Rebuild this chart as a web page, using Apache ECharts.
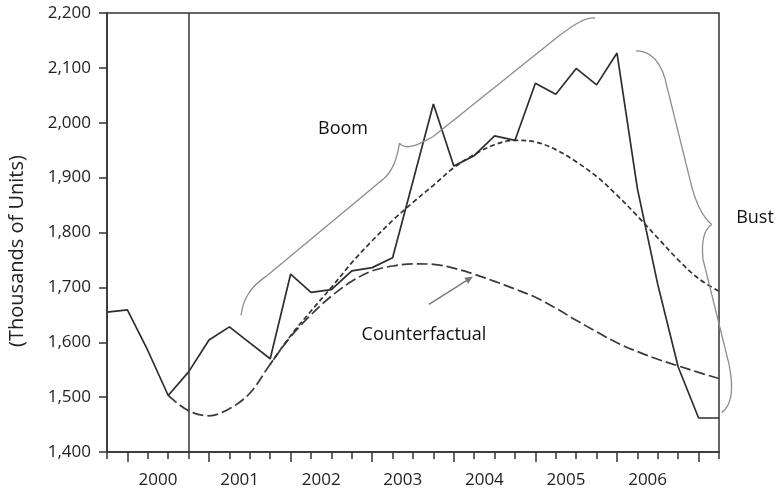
<!DOCTYPE html>
<html>
<head>
<meta charset="utf-8">
<script src="https://cdn.jsdelivr.net/npm/echarts@6/dist/echarts.min.js"></script>
<style>
html,body{margin:0;padding:0;background:#fff;}
#main{width:778px;height:489px;}
</style>
</head>
<body>
<div id="main"></div>
<script>
// ---- Data (quarter index 0..30, thousands of units) ----
const yearLabels = ['2000', '2001', '2002', '2003', '2004', '2005', '2006'];
const yearLabelPos = [2.5, 6.5, 10.5, 14.5, 18.5, 22.5, 26.5];
const yearTickPos = [1, 5, 9, 13, 17, 21, 25, 29];
const actual = [1655, 1659, 1585, 1503, 1546, 1604, 1628, 1599, 1570, 1724, 1691, 1696, 1730, 1736, 1754, 1894, 2034, 1921, 1940, 1976, 1968, 2072, 2052, 2099, 2069, 2127, 1880, 1705, 1555, 1462, 1462];
const counterfactualStart = 3;
const counterfactual = [1503, 1475, 1466, 1479, 1507, 1560, 1610, 1650, 1684, 1711, 1730, 1739, 1743, 1742, 1735, 1724, 1711, 1697, 1682, 1662, 1640, 1619, 1599, 1583, 1569, 1557, 1545, 1534];
const boomTrendStart = 8;
const boomTrend = [1560, 1612, 1657, 1700, 1745, 1785, 1822, 1855, 1886, 1918, 1942, 1960, 1968, 1965, 1951, 1929, 1902, 1868, 1830, 1790, 1750, 1716, 1693];
const markerQuarter = 4;

// annotation anchors in data units [quarter, value]
const boomBrace = [
  ['M', [6.569, 1649.1]],
  ['C', [6.667, 1678.2], [7.010, 1700.0], [7.794, 1720.0]],
  ['L', [13.578, 1898.2]],
  ['C', [13.971, 1910.9], [14.216, 1932.7], [14.338, 1962.7]],
  ['C', [14.461, 1956.4], [14.706, 1954.5], [15.049, 1958.2]],
  ['C', [15.343, 1961.8], [15.588, 1967.3], [15.980, 1974.5]],
  ['L', [22.206, 2160.0]],
  ['C', [22.941, 2180.0], [23.480, 2192.7], [23.922, 2190.9]]
];
const bustBrace = [
  ['M', [25.931, 2130.9]],
  ['C', [26.716, 2130.9], [27.206, 2110.9], [27.451, 2065.5]],
  ['L', [28.578, 1896.4]],
  ['C', [28.775, 1863.6], [29.069, 1832.7], [29.642, 1814.5]],
  ['C', [29.265, 1805.5], [29.118, 1787.3], [29.216, 1750.9]],
  ['L', [30.490, 1560.0]],
  ['C', [30.686, 1523.6], [30.735, 1487.3], [30.132, 1471.8]]
];
const arrowFrom = [15.784, 1669.1];
const arrowTo = [17.941, 1720.0];
const notes = [
  { text: 'Boom', at: [11.569, 1989.1] },
  { text: 'Bust', at: [31.765, 1827.3] },
  { text: 'Counterfactual', at: [15.539, 1612.7] }
];

const pairs = (arr, start) => arr.map((v, k) => [start + k, v]);

const axisColor = '#333';
const labelFont = 'Open Sans';

const option = {
  animation: false,
  backgroundColor: '#fff',
  grid: {
    left: 107, top: 13, width: 612, height: 440,
    show: true, borderColor: axisColor, borderWidth: 1.5, backgroundColor: 'transparent'
  },
  xAxis: [
    {
      type: 'value', min: 0, max: 30, interval: 1,
      axisLine: { show: true, lineStyle: { color: axisColor, width: 1.5 } },
      axisTick: { show: true, length: 7, lineStyle: { color: axisColor, width: 1.5 } },
      axisLabel: { show: false },
      splitLine: { show: false }
    },
    {
      type: 'value', min: 0, max: 30, position: 'bottom', offset: 0,
      axisLine: { show: false },
      axisTick: { show: true, length: 10, customValues: yearTickPos, lineStyle: { color: axisColor, width: 1.5 } },
      axisLabel: {
        show: true, customValues: yearLabelPos, margin: 20,
        fontFamily: labelFont, fontSize: 17, color: '#222',
        formatter: v => yearLabels[yearLabelPos.indexOf(v)] || ''
      },
      splitLine: { show: false }
    }
  ],
  yAxis: {
    type: 'value', min: 1400, max: 2200, interval: 100,
    axisLine: { show: true, lineStyle: { color: axisColor, width: 1.5 } },
    axisTick: { show: true, length: 8, lineStyle: { color: axisColor, width: 1.5 } },
    axisLabel: {
      margin: 16, fontFamily: labelFont, fontSize: 17, color: '#222',
      formatter: v => v.toLocaleString('en-US')
    },
    splitLine: { show: false }
  },
  series: [
    {
      name: 'Actual', type: 'line', xAxisIndex: 0, data: pairs(actual, 0),
      symbol: 'none', lineStyle: { color: '#2e2e2e', width: 1.7 },
      markLine: {
        silent: true, symbol: 'none', label: { show: false },
        lineStyle: { color: axisColor, type: 'solid', width: 1.5 },
        data: [{ xAxis: markerQuarter }]
      },
      z: 4
    },
    {
      name: 'Counterfactual', type: 'line', xAxisIndex: 0,
      data: pairs(counterfactual, counterfactualStart),
      symbol: 'none', smooth: 0.35,
      lineStyle: { color: '#3a3a3a', width: 1.7, type: [11, 4] },
      z: 3
    },
    {
      name: 'Boom trend', type: 'line', xAxisIndex: 0,
      data: pairs(boomTrend, boomTrendStart),
      symbol: 'none', smooth: 0.35,
      lineStyle: { color: '#333', width: 1.7, type: [5, 3] },
      z: 3
    }
  ]
};

const chart = echarts.init(document.getElementById('main'), null, { renderer: 'canvas' });
chart.setOption(option);

const px = p => chart.convertToPixel({ xAxisIndex: 0, yAxisIndex: 0 }, p);
const braceStyle = { stroke: '#8c8c8c', lineWidth: 1.3, fill: null };

function braceElements(cmds) {
  const els = [];
  let cur = null;
  cmds.forEach(c => {
    if (c[0] === 'M') { cur = px(c[1]); }
    else if (c[0] === 'L') {
      const p = px(c[1]);
      els.push({ type: 'line', shape: { x1: cur[0], y1: cur[1], x2: p[0], y2: p[1] }, style: braceStyle, z: 10 });
      cur = p;
    } else if (c[0] === 'C') {
      const a = px(c[1]), b = px(c[2]), p = px(c[3]);
      els.push({ type: 'bezierCurve', shape: { x1: cur[0], y1: cur[1], cpx1: a[0], cpy1: a[1], cpx2: b[0], cpy2: b[1], x2: p[0], y2: p[1] }, style: braceStyle, z: 10 });
      cur = p;
    }
  });
  return els;
}

const graphics = [];
braceElements(boomBrace).forEach(e => graphics.push(e));
braceElements(bustBrace).forEach(e => graphics.push(e));

// arrow
const a0 = px(arrowFrom), a1 = px(arrowTo);
const dx = a1[0] - a0[0], dy = a1[1] - a0[1];
const len = Math.sqrt(dx * dx + dy * dy);
const ux = dx / len, uy = dy / len, nx = -uy, ny = ux;
const hl = 8, hw = 3.5;
graphics.push({ type: 'line', shape: { x1: a0[0], y1: a0[1], x2: a1[0] - ux * 5, y2: a1[1] - uy * 5 }, style: { stroke: '#777', lineWidth: 1.3 }, z: 10 });
graphics.push({
  type: 'polygon',
  shape: { points: [[a1[0], a1[1]], [a1[0] - ux * hl + nx * hw, a1[1] - uy * hl + ny * hw], [a1[0] - ux * hl - nx * hw, a1[1] - uy * hl - ny * hw]] },
  style: { fill: '#777' }, z: 10
});

notes.forEach(n => {
  const p = px(n.at);
  graphics.push({
    type: 'text', x: p[0], y: p[1], z: 11,
    style: { text: n.text, fill: '#111', font: '18px "Open Sans"', textAlign: 'center', textVerticalAlign: 'middle' }
  });
});

// y-axis title
graphics.push({
  type: 'text', x: 17, y: 251, rotation: Math.PI / 2, z: 11,
  style: { text: '(Thousands of Units)', fill: '#222', font: '20px "Open Sans"', textAlign: 'center', textVerticalAlign: 'middle' }
});

chart.setOption({ graphic: graphics });
</script>
</body>
</html>
